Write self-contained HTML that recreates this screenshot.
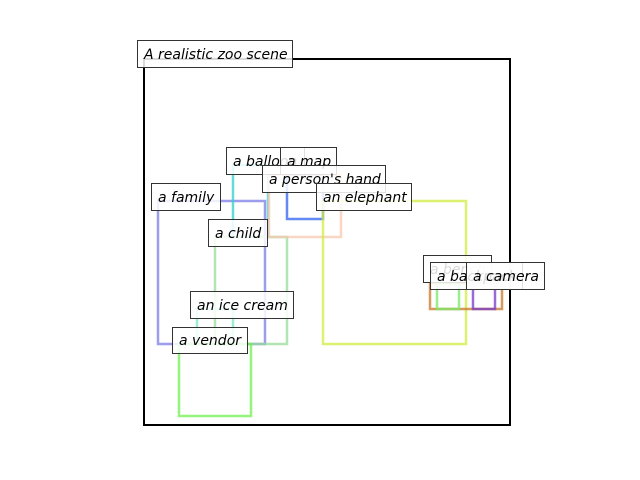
<!DOCTYPE html>
<html><head><style>body{margin:0;background:#fff}svg{display:block}text{font-family:"DejaVu Sans","Liberation Sans",sans-serif;font-style:italic;font-size:14px;fill:#000}rect.l{fill:#fff;fill-opacity:0.85;stroke:#333;stroke-width:1}</style></head>
<body>
<svg width="640" height="480" viewBox="0 0 640 480" xmlns="http://www.w3.org/2000/svg">
<rect x="144" y="59" width="366" height="366" fill="none" stroke="#000" stroke-width="2"/>
<g fill="none" stroke-width="2.5" stroke-opacity="0.75">
<rect x="158" y="201" width="107" height="143" stroke="#7c7ce8"/>
<rect x="233" y="165" width="35" height="72" stroke="#30d0c8"/>
<rect x="215" y="237" width="72" height="107" stroke="#98dc98"/>
<rect x="287" y="175" width="36" height="44" stroke="#3060f0"/>
<rect x="269" y="175" width="72" height="62" stroke="#f8c8b0"/>
<rect x="323" y="201" width="143" height="143" stroke="#d0ec40"/>
<rect x="197" y="309" width="36" height="35" stroke="#70eec0"/>
<rect x="179" y="344" width="72" height="72" stroke="#70f050"/>
<rect x="430" y="283" width="72" height="26" stroke="#c87828"/>
<rect x="437" y="283" width="22" height="26" stroke="#78e868"/>
<rect x="473" y="283" width="22" height="26" stroke="#7838c8"/>
</g>
<rect class="l" x="137.5" y="40.5" width="155" height="27"/><text x="144" y="59">A realistic zoo scene</text>
<rect class="l" x="151.5" y="183.5" width="69" height="27"/><text x="158" y="202">a family</text>
<rect class="l" x="208.5" y="219.5" width="59" height="27"/><text x="215" y="238">a child</text>
<rect class="l" x="190.5" y="291.5" width="103" height="27"/><text x="197" y="310">an ice cream</text>
<rect class="l" x="172.5" y="327.5" width="75" height="26"/><text x="179" y="345">a vendor</text>
<rect class="l" x="226.5" y="147.5" width="78" height="27"/><text x="233" y="166">a balloon</text>
<rect class="l" x="280.5" y="147.5" width="56" height="27"/><text x="287" y="166">a map</text>
<rect class="l" x="262.5" y="165.5" width="123" height="27"/><text x="269" y="184">a person's hand</text>
<rect class="l" x="316.5" y="183.5" width="95" height="27"/><text x="323" y="202">an elephant</text>
<rect class="l" x="423.5" y="255.5" width="68" height="27"/><text x="430" y="274">a bench</text>
<rect class="l" x="430.5" y="262.5" width="92" height="27"/><text x="437" y="281">a backpack</text>
<rect class="l" x="466.5" y="262.5" width="78" height="27"/><text x="473" y="281">a camera</text>
</svg>
</body></html>
